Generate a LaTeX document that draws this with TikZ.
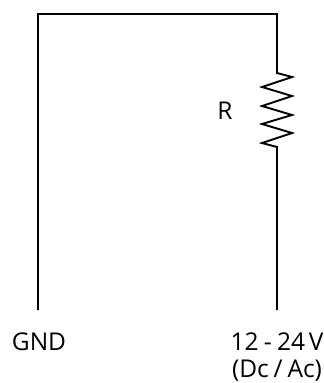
\documentclass[tikz,border=0pt]{standalone}
\usepackage{fontspec}
\setmainfont{Open Sans}
\begin{document}
\begin{tikzpicture}[x=1pt, y=-1pt, font=\fontsize{24.5}{28}\selectfont, line join=miter, line cap=butt]
	\tikzset{wire/.style={line width=1.9pt}, lbl/.style={inner sep=0pt, anchor=base}}
	\useasboundingbox (0,0) rectangle (324,383);
	\coordinate (gnd) at (38,310);
	\coordinate (tl) at (38,14);
	\coordinate (tr) at (277,14);
	\coordinate (ra) at (277,73);
	\coordinate (rb) at (277,147);
	\coordinate (vin) at (277,310);
	\draw[wire] (gnd)--(tl)--(tr)--(ra)--(292,77)--(262,87)--(292,96)--(262,106)--(292,115)--(262,124)--(292,133)--(262,143)--(rb)--(vin);
	\node[lbl] (rlabel) at (225,119) {R};
	\node[lbl] (gndlabel) at (39,350) {GND};
	\node[lbl] (vlabel) at (277,350) {12\hspace{.22em}-\hspace{.22em}24\hspace{.15em}V};
	\node[lbl] (aclabel) at (277,377) {(Dc\hspace{.2em}/\hspace{.2em}Ac)};
\end{tikzpicture}
\end{document}
